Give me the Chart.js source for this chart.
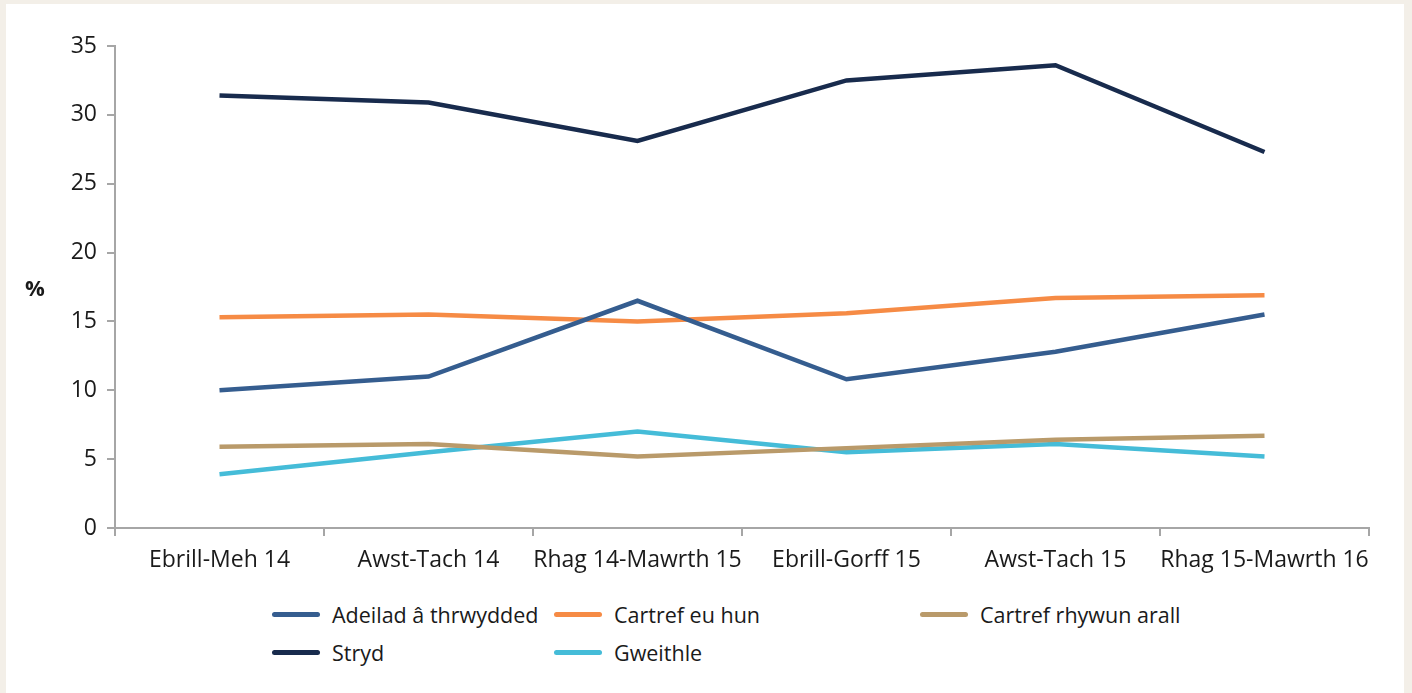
<!DOCTYPE html>
<html lang="cy">
  <head>
    <meta charset="UTF-8" />
    <title>Lleoliad</title>
    <script src="https://cdn.jsdelivr.net/npm/chart.js"></script>
    <style>
      body {
        margin: 0;
        background-color: #f3efe8;
        font-family: "Open Sans", sans-serif;
        width: 1412px;
        height: 693px;
        overflow: hidden;
      }
      .panel {
        position: absolute;
        left: 6px;
        top: 4px;
        width: 1398px;
        height: 689px;
        background: #ffffff;
      }
      .chart-box {
        position: absolute;
        left: 0;
        top: 0;
        width: 1398px;
        height: 570px;
      }
      .ylabel {
        position: absolute;
        left: 19px;
        top: 268px;
        font-size: 22px;
        font-weight: bold;
        color: #1a1a1a;
      }
      #legend {
        position: absolute;
        left: 266px;
        top: 596px;
        display: grid;
        grid-template-columns: 282px 366px 300px;
        row-gap: 10px;
      }
      .legend-item {
        display: flex;
        align-items: center;
        font-size: 21.5px;
        color: #1a1a1a;
        height: 28px;
      }
      .legend-line {
        width: 48px;
        height: 5px;
        border-radius: 3px;
        margin-right: 12px;
      }
    </style>
  </head>
  <body>
    <div class="panel">
      <div class="chart-box"><canvas id="chart"></canvas></div>
      <div class="ylabel">%</div>
      <div id="legend"></div>
    </div>

    <script>
      const periods = [
        "Ebrill-Meh 14",
        "Awst-Tach 14",
        "Rhag 14-Mawrth 15",
        "Ebrill-Gorff 15",
        "Awst-Tach 15",
        "Rhag 15-Mawrth 16",
      ];
      const adeilad = [10.0, 11.0, 16.5, 10.8, 12.8, 15.5];
      const cartrefEuHun = [15.3, 15.5, 15.0, 15.6, 16.7, 16.9];
      const cartrefRhywunArall = [5.9, 6.1, 5.2, 5.8, 6.4, 6.7];
      const stryd = [31.4, 30.9, 28.1, 32.5, 33.6, 27.3];
      const gweithle = [3.9, 5.5, 7.0, 5.5, 6.1, 5.2];
      const yTicks = [0, 5, 10, 15, 20, 25, 30, 35];

      // legend order follows the reference, drawing order keeps light lines on top
      const series = [
        { label: "Adeilad â thrwydded", data: adeilad, color: "#355d8f" },
        { label: "Cartref eu hun", data: cartrefEuHun, color: "#f68b45" },
        { label: "Cartref rhywun arall", data: cartrefRhywunArall, color: "#b99a6a" },
        { label: "Stryd", data: stryd, color: "#182b4d" },
        { label: "Gweithle", data: gweithle, color: "#45bcd8" },
      ];

      const axisColor = "#a6a6a6";
      const tickFont = { family: "Open Sans", size: 23 };

      new Chart(document.getElementById("chart"), {
        type: "line",
        data: {
          labels: periods,
          datasets: series.map((s) => ({
            label: s.label,
            data: s.data,
            borderColor: s.color,
            backgroundColor: s.color,
            borderWidth: 4.5,
            pointRadius: 0,
            tension: 0,
            fill: false,
          })),
        },
        options: {
          responsive: true,
          maintainAspectRatio: false,
          animation: false,
          layout: { padding: { top: 42, right: 35, left: 0, bottom: 0 } },
          plugins: {
            legend: { display: false },
            tooltip: { enabled: false },
          },
          scales: {
            x: {
              offset: true,
              afterFit: (scale) => {
                scale.height = 46;
              },
              grid: {
                offset: true,
                drawOnChartArea: false,
                drawTicks: true,
                tickLength: 8,
                color: axisColor,
                lineWidth: 2,
              },
              border: { color: axisColor, width: 2 },
              ticks: {
                font: tickFont,
                color: "#1a1a1a",
                padding: 11,
                maxRotation: 0,
                autoSkip: false,
              },
            },
            y: {
              min: 0,
              max: 35,
              afterBuildTicks: (scale) => {
                scale.ticks = yTicks.map((v) => ({ value: v }));
              },
              afterFit: (scale) => {
                scale.width = 109;
              },
              grid: {
                drawOnChartArea: false,
                drawTicks: true,
                tickLength: 8,
                color: axisColor,
                lineWidth: 2,
              },
              border: { color: axisColor, width: 2 },
              ticks: {
                font: tickFont,
                color: "#1a1a1a",
                padding: 10,
              },
            },
          },
        },
      });

      const legend = document.getElementById("legend");
      series.forEach((s) => {
        const item = document.createElement("div");
        item.className = "legend-item";
        const line = document.createElement("span");
        line.className = "legend-line";
        line.style.background = s.color;
        const text = document.createElement("span");
        text.textContent = s.label;
        item.appendChild(line);
        item.appendChild(text);
        legend.appendChild(item);
      });
    </script>
  </body>
</html>
